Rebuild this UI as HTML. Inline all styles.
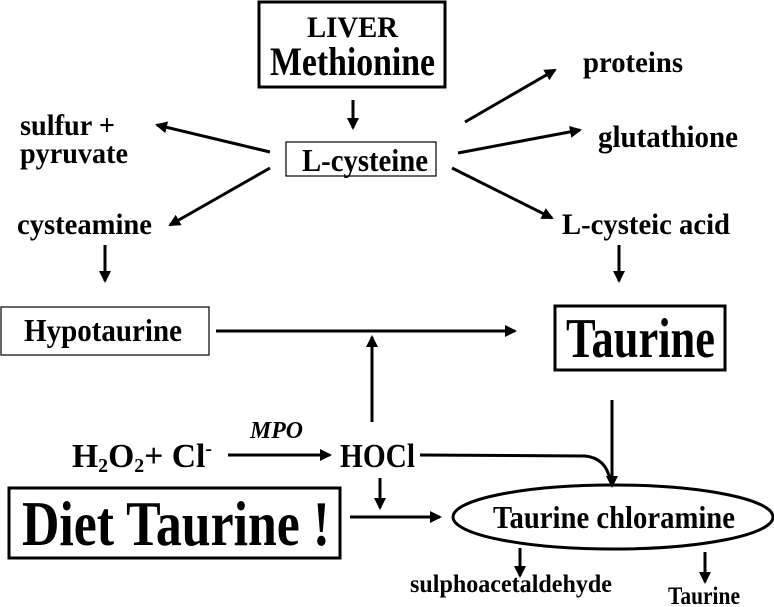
<!DOCTYPE html>
<html><head><meta charset="utf-8"><style>html,body{margin:0;padding:0;background:#fff}svg{display:block}text{font-family:"Liberation Serif",serif;font-weight:bold;fill:#000}</style></head><body>
<svg width="774" height="607" viewBox="0 0 774 607" xmlns="http://www.w3.org/2000/svg">
<defs><marker id="a" markerWidth="12" markerHeight="12" refX="10" refY="6" orient="auto" markerUnits="userSpaceOnUse"><path d="M0,0 L12,6 L0,12 z" fill="#000"/></marker></defs>
<g fill="none" stroke="#000">
<rect x="259" y="2" width="186" height="85" stroke-width="3"/>
<rect x="286" y="142" width="150" height="34" stroke-width="1.2"/>
<rect x="1" y="307" width="208" height="48" stroke-width="1.2"/>
<rect x="555" y="306" width="170" height="64" stroke-width="3"/>
<rect x="9" y="488" width="331" height="70" stroke-width="3"/>
<ellipse cx="613" cy="517" rx="160" ry="32" stroke-width="3"/>
</g>
<g stroke="#000" stroke-width="3" marker-end="url(#a)">
<line x1="353" y1="100" x2="353" y2="128"/>
<line x1="270" y1="152" x2="157" y2="125"/>
<line x1="465" y1="122" x2="555" y2="70"/>
<line x1="458" y1="153" x2="580" y2="130"/>
<line x1="452" y1="168" x2="552" y2="218"/>
<line x1="270" y1="168" x2="170" y2="225"/>
<line x1="105" y1="245" x2="105" y2="281"/>
<line x1="619" y1="245" x2="619" y2="281"/>
<line x1="216" y1="331" x2="515" y2="331"/>
<line x1="372" y1="422" x2="372" y2="337"/>
<line x1="612" y1="400" x2="612" y2="486"/>
<line x1="228" y1="455" x2="330" y2="455"/>
<line x1="380" y1="478" x2="380" y2="508"/>
<line x1="350" y1="517" x2="440" y2="517"/>
<line x1="520" y1="548" x2="520" y2="576"/>
<line x1="705" y1="552" x2="705" y2="582"/>
</g>
<path d="M420,455 L585,456 Q606,458 610,480" fill="none" stroke="#000" stroke-width="3"/>
<text x="307" y="37" font-size="30" textLength="91" lengthAdjust="spacingAndGlyphs">LIVER</text>
<text x="270" y="75" font-size="40" textLength="165" lengthAdjust="spacingAndGlyphs">Methionine</text>
<text x="302" y="171" font-size="32" textLength="126" lengthAdjust="spacingAndGlyphs">L-cysteine</text>
<text x="583" y="72" font-size="30" textLength="100" lengthAdjust="spacingAndGlyphs">proteins</text>
<text x="598" y="147" font-size="31" textLength="140" lengthAdjust="spacingAndGlyphs">glutathione</text>
<text x="20" y="135" font-size="30" textLength="95" lengthAdjust="spacingAndGlyphs">sulfur +</text>
<text x="20" y="163" font-size="30" textLength="108" lengthAdjust="spacingAndGlyphs">pyruvate</text>
<text x="17" y="234" font-size="30" textLength="135" lengthAdjust="spacingAndGlyphs">cysteamine</text>
<text x="562" y="234" font-size="30" textLength="168" lengthAdjust="spacingAndGlyphs">L-cysteic acid</text>
<text x="24" y="341" font-size="32" textLength="158" lengthAdjust="spacingAndGlyphs">Hypotaurine</text>
<text x="566" y="357" font-size="56" textLength="149" lengthAdjust="spacingAndGlyphs">Taurine</text>
<text x="250" y="438" font-size="24" font-style="italic" font-weight="normal" textLength="53" lengthAdjust="spacingAndGlyphs">MPO</text>
<text x="72" y="467" font-size="34" textLength="140" lengthAdjust="spacingAndGlyphs">H<tspan font-size="20" dy="5">2</tspan><tspan dy="-5">O</tspan><tspan font-size="20" dy="5">2</tspan><tspan dy="-5">+ Cl</tspan><tspan font-size="20" dy="-12">-</tspan></text>
<text x="340" y="467" font-size="34" textLength="75" lengthAdjust="spacingAndGlyphs">HOCl</text>
<text x="22" y="545" font-size="64" textLength="308" lengthAdjust="spacingAndGlyphs">Diet  Taurine !</text>
<text x="493" y="528" font-size="32" textLength="242" lengthAdjust="spacingAndGlyphs">Taurine chloramine</text>
<text x="410" y="592" font-size="25" textLength="202" lengthAdjust="spacingAndGlyphs">sulphoacetaldehyde</text>
<text x="668" y="604" font-size="25" textLength="72" lengthAdjust="spacingAndGlyphs">Taurine</text>
</svg>
</body></html>
